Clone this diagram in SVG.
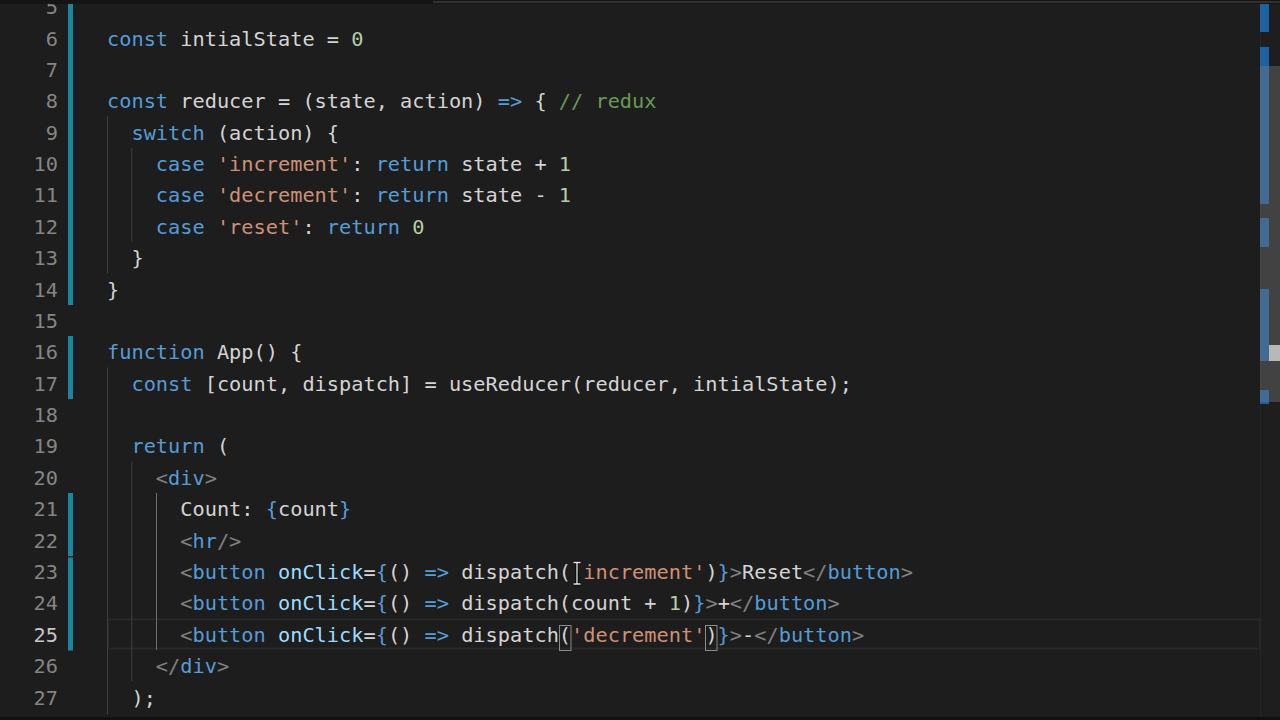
<svg xmlns="http://www.w3.org/2000/svg" width="1280" height="720" viewBox="0 0 1280 720">
<style>
.code{font-family:"DejaVu Sans Mono","Liberation Mono",monospace;font-size:20.3px;fill:#d4d4d4;white-space:pre}
.ln{font-family:"DejaVu Sans Mono","Liberation Mono",monospace;font-size:20.3px;fill:#858585;text-anchor:end}
.k{fill:#569cd6}
.s{fill:#ce9178}
.n{fill:#b5cea8}
.c{fill:#6a9955}
.p{fill:#808080}
.a{fill:#9cdcfe}
.guide{stroke:#404040;stroke-width:1}
.guideA{stroke:#6e6e6e;stroke-width:1}
.mod{fill:#1a86a0}
.ov{fill:#1f62a3}
</style>
<rect x="0" y="0" width="1280" height="720" fill="#1d1d1d"/>
<g id="current-line">
<rect x="108" y="619.5" width="1152" height="29" fill="none" stroke="#292929" stroke-width="2"/>
</g>
<g id="indent-guides">
<line class="guide" x1="107.5" y1="116.4" x2="107.5" y2="273.4"/>
<line class="guide" x1="131.8" y1="147.8" x2="131.8" y2="241.9"/>
<line class="guide" x1="107.5" y1="367.5" x2="107.5" y2="714"/>
<line class="guide" x1="131.8" y1="461.6" x2="131.8" y2="681.3"/>
<line class="guideA" x1="156.5" y1="493" x2="156.5" y2="650"/>
</g>
<g id="gutter-markers">
<rect class="mod" x="68" y="0" width="5" height="305"/>
<rect class="mod" x="68" y="336" width="5" height="63"/>
<rect class="mod" x="68" y="493" width="5" height="63"/>
<rect class="mod" x="68" y="557.5" width="5" height="93"/>
</g>
<g id="line-numbers">
<text class="ln" x="58" y="14.1">5</text>
<text class="ln" x="58" y="45.5">6</text>
<text class="ln" x="58" y="76.9">7</text>
<text class="ln" x="58" y="108.3">8</text>
<text class="ln" x="58" y="139.6">9</text>
<text class="ln" x="58" y="171">10</text>
<text class="ln" x="58" y="202.4">11</text>
<text class="ln" x="58" y="233.8">12</text>
<text class="ln" x="58" y="265.2">13</text>
<text class="ln" x="58" y="296.5">14</text>
<text class="ln" x="58" y="327.9">15</text>
<text class="ln" x="58" y="359.3">16</text>
<text class="ln" x="58" y="390.7">17</text>
<text class="ln" x="58" y="422.1">18</text>
<text class="ln" x="58" y="453.4">19</text>
<text class="ln" x="58" y="484.8">20</text>
<text class="ln" x="58" y="516.2">21</text>
<text class="ln" x="58" y="547.6">22</text>
<text class="ln" x="58" y="579">23</text>
<text class="ln" x="58" y="610.3">24</text>
<text class="ln" x="58" y="641.7" style="fill:#c6c6c6">25</text>
<text class="ln" x="58" y="673.1">26</text>
<text class="ln" x="58" y="704.5">27</text>
</g>
<g id="code" xml:space="preserve">
<text class="code" x="107" y="45.5"><tspan class="k">const</tspan> intialState = <tspan class="n">0</tspan></text>
<text class="code" x="107" y="108.3"><tspan class="k">const</tspan> reducer = (state, action) <tspan class="k">=&gt;</tspan> { <tspan class="c">// redux</tspan></text>
<text class="code" x="107" y="139.6">  <tspan class="k">switch</tspan> (action) {</text>
<text class="code" x="107" y="171">    <tspan class="k">case</tspan> <tspan class="s">'increment'</tspan>: <tspan class="k">return</tspan> state + <tspan class="n">1</tspan></text>
<text class="code" x="107" y="202.4">    <tspan class="k">case</tspan> <tspan class="s">'decrement'</tspan>: <tspan class="k">return</tspan> state - <tspan class="n">1</tspan></text>
<text class="code" x="107" y="233.8">    <tspan class="k">case</tspan> <tspan class="s">'reset'</tspan>: <tspan class="k">return</tspan> <tspan class="n">0</tspan></text>
<text class="code" x="107" y="265.2">  }</text>
<text class="code" x="107" y="296.5">}</text>
<text class="code" x="107" y="359.3"><tspan class="k">function</tspan> App() {</text>
<text class="code" x="107" y="390.7">  <tspan class="k">const</tspan> [count, dispatch] = useReducer(reducer, intialState);</text>
<text class="code" x="107" y="453.4">  <tspan class="k">return</tspan> (</text>
<text class="code" x="107" y="484.8">    <tspan class="p">&lt;</tspan><tspan class="k">div</tspan><tspan class="p">&gt;</tspan></text>
<text class="code" x="107" y="516.2">      Count: <tspan class="k">{</tspan>count<tspan class="k">}</tspan></text>
<text class="code" x="107" y="547.6">      <tspan class="p">&lt;</tspan><tspan class="k">hr</tspan><tspan class="p">/&gt;</tspan></text>
<text class="code" x="107" y="579">      <tspan class="p">&lt;</tspan><tspan class="k">button</tspan> <tspan class="a">onClick</tspan>=<tspan class="k">{</tspan>() <tspan class="k">=&gt;</tspan> dispatch(<tspan class="s">'increment'</tspan>)<tspan class="k">}</tspan><tspan class="p">&gt;</tspan>Reset<tspan class="p">&lt;/</tspan><tspan class="k">button</tspan><tspan class="p">&gt;</tspan></text>
<text class="code" x="107" y="610.3">      <tspan class="p">&lt;</tspan><tspan class="k">button</tspan> <tspan class="a">onClick</tspan>=<tspan class="k">{</tspan>() <tspan class="k">=&gt;</tspan> dispatch(count + <tspan class="n">1</tspan>)<tspan class="k">}</tspan><tspan class="p">&gt;</tspan>+<tspan class="p">&lt;/</tspan><tspan class="k">button</tspan><tspan class="p">&gt;</tspan></text>
<text class="code" x="107" y="641.7">      <tspan class="p">&lt;</tspan><tspan class="k">button</tspan> <tspan class="a">onClick</tspan>=<tspan class="k">{</tspan>() <tspan class="k">=&gt;</tspan> dispatch(<tspan class="s">'decrement'</tspan>)<tspan class="k">}</tspan><tspan class="p">&gt;</tspan>-<tspan class="p">&lt;/</tspan><tspan class="k">button</tspan><tspan class="p">&gt;</tspan></text>
<text class="code" x="107" y="673.1">    <tspan class="p">&lt;/</tspan><tspan class="k">div</tspan><tspan class="p">&gt;</tspan></text>
<text class="code" x="107" y="704.5">  );</text>
</g>
<g id="bracket-match">
<rect x="559.5" y="625.5" width="11.5" height="25" fill="none" stroke="#8a8a8a" stroke-width="1"/>
<rect x="705.5" y="625.5" width="11.5" height="25" fill="none" stroke="#8a8a8a" stroke-width="1"/>
</g>
<g id="mouse-cursor">
<path d="M573.5 562.5 H580.5 M577 562.5 V584 M573.5 584 H580.5" fill="none" stroke="#000" stroke-width="3"/>
<path d="M573.5 562.5 H580.5 M577 562.5 V584 M573.5 584 H580.5" fill="none" stroke="#e8e8e8" stroke-width="1.3"/>
</g>
<g id="scrollbar">
<rect x="1260" y="0" width="20" height="720" fill="#1e1e1e"/>
<line x1="1260.5" y1="0" x2="1260.5" y2="720" stroke="#262626"/>
<rect class="ov" x="1260" y="4" width="9" height="28"/>
<rect class="ov" x="1260" y="47" width="9" height="157"/>
<rect class="ov" x="1260" y="218" width="9" height="29"/>
<rect class="ov" x="1260" y="289" width="9" height="72"/>
<rect class="ov" x="1260" y="390" width="9" height="14"/>
<rect x="1260" y="66" width="20" height="336" fill="#797979" fill-opacity="0.4"/>
<rect x="1269" y="345" width="11" height="16" fill="#b8b8b8"/>
</g>
<g id="frame">
<rect x="0" y="0" width="1280" height="4" fill="#151515"/>
<rect x="433" y="1" width="847" height="2" fill="#303030"/>
<rect x="0" y="717" width="1280" height="3" fill="#111"/>
</g>
</svg>
